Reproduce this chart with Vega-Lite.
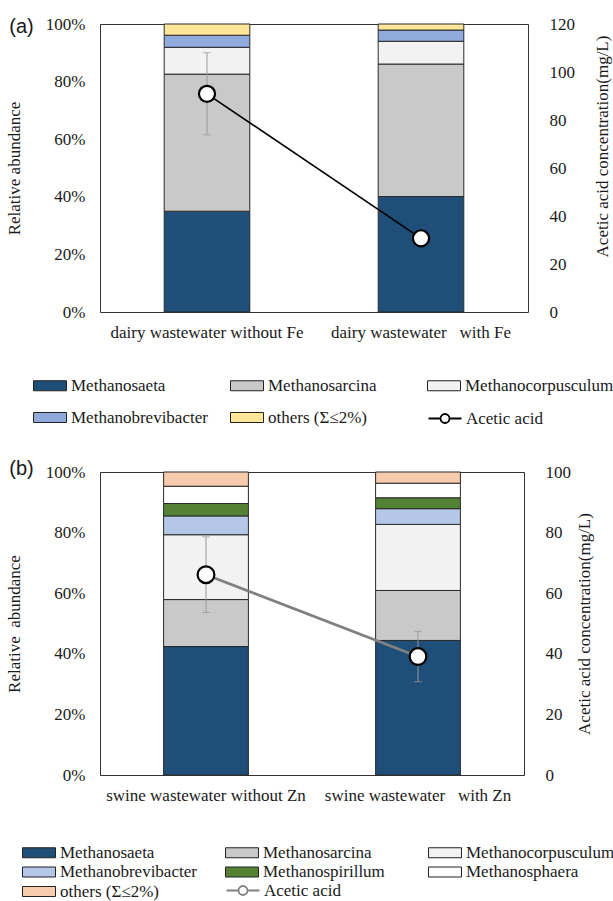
{
  "$schema": "https://vega.github.io/schema/vega-lite/v6.json",
  "background": "white",
  "padding": {"left": 4, "top": 14, "right": 0, "bottom": 0},
  "spacing": 30,
  "config": {
    "font": "Liberation Serif",
    "view": {"stroke": "#333333", "strokeWidth": 1},
    "axis": {"labelFont": "Liberation Serif", "labelFontSize": 17, "labelColor": "#1a1a1a", "titleFont": "Liberation Serif", "titleFontSize": 17, "titleFontWeight": "normal", "titleColor": "#1a1a1a", "ticks": false, "domain": false, "grid": false},
    "legend": {"labelFont": "Liberation Serif", "labelFontSize": 17, "labelColor": "#1a1a1a", "labelLimit": 400},
    "title": {"font": "Liberation Sans", "fontSize": 20, "fontWeight": "normal", "color": "#1a1a1a"}
  },
  "datasets": {
    "a_comp": [
      {"condition": "dairy wastewater without Fe", "series": "Methanosaeta", "rank": 1, "abundance": 35.0},
      {"condition": "dairy wastewater without Fe", "series": "Methanosarcina", "rank": 2, "abundance": 47.6},
      {"condition": "dairy wastewater without Fe", "series": "Methanocorpusculum", "rank": 3, "abundance": 9.3},
      {"condition": "dairy wastewater without Fe", "series": "Methanobrevibacter", "rank": 4, "abundance": 4.2},
      {"condition": "dairy wastewater without Fe", "series": "others (Σ≤2%)", "rank": 5, "abundance": 3.9},
      {"condition": "dairy wastewater\u00a0\u00a0\u00a0with Fe", "series": "Methanosaeta", "rank": 1, "abundance": 40.1},
      {"condition": "dairy wastewater\u00a0\u00a0\u00a0with Fe", "series": "Methanosarcina", "rank": 2, "abundance": 46.0},
      {"condition": "dairy wastewater\u00a0\u00a0\u00a0with Fe", "series": "Methanocorpusculum", "rank": 3, "abundance": 7.9},
      {"condition": "dairy wastewater\u00a0\u00a0\u00a0with Fe", "series": "Methanobrevibacter", "rank": 4, "abundance": 3.9},
      {"condition": "dairy wastewater\u00a0\u00a0\u00a0with Fe", "series": "others (Σ≤2%)", "rank": 5, "abundance": 2.1}
    ],
    "a_acid": [
      {"condition": "dairy wastewater without Fe", "series": "Acetic acid", "acetic": 90.9, "lo": 73.8, "hi": 108.0},
      {"condition": "dairy wastewater\u00a0\u00a0\u00a0with Fe", "series": "Acetic acid", "acetic": 30.7, "lo": 28.7, "hi": 32.7}
    ],
    "b_comp": [
      {"condition": "swine wastewater without Zn", "series": "Methanosaeta", "rank": 1, "abundance": 42.4},
      {"condition": "swine wastewater without Zn", "series": "Methanosarcina", "rank": 2, "abundance": 15.5},
      {"condition": "swine wastewater without Zn", "series": "Methanocorpusculum", "rank": 3, "abundance": 21.4},
      {"condition": "swine wastewater without Zn", "series": "Methanobrevibacter", "rank": 4, "abundance": 6.2},
      {"condition": "swine wastewater without Zn", "series": "Methanospirillum", "rank": 5, "abundance": 4.1},
      {"condition": "swine wastewater without Zn", "series": "Methanosphaera", "rank": 6, "abundance": 5.7},
      {"condition": "swine wastewater without Zn", "series": "others (Σ≤2%)", "rank": 7, "abundance": 4.7},
      {"condition": "swine wastewater\u00a0\u00a0\u00a0with Zn", "series": "Methanosaeta", "rank": 1, "abundance": 44.4},
      {"condition": "swine wastewater\u00a0\u00a0\u00a0with Zn", "series": "Methanosarcina", "rank": 2, "abundance": 16.5},
      {"condition": "swine wastewater\u00a0\u00a0\u00a0with Zn", "series": "Methanocorpusculum", "rank": 3, "abundance": 21.8},
      {"condition": "swine wastewater\u00a0\u00a0\u00a0with Zn", "series": "Methanobrevibacter", "rank": 4, "abundance": 5.2},
      {"condition": "swine wastewater\u00a0\u00a0\u00a0with Zn", "series": "Methanospirillum", "rank": 5, "abundance": 3.6},
      {"condition": "swine wastewater\u00a0\u00a0\u00a0with Zn", "series": "Methanosphaera", "rank": 6, "abundance": 4.8},
      {"condition": "swine wastewater\u00a0\u00a0\u00a0with Zn", "series": "others (Σ≤2%)", "rank": 7, "abundance": 3.7}
    ],
    "b_acid": [
      {"condition": "swine wastewater without Zn", "series": "Acetic acid", "acetic": 66.1, "lo": 53.6, "hi": 78.6},
      {"condition": "swine wastewater\u00a0\u00a0\u00a0with Zn", "series": "Acetic acid", "acetic": 39.1, "lo": 30.8, "hi": 47.4}
    ]
  },
  "vconcat": [
    {
      "title": {"text": "(a)", "anchor": "start", "frame": "bounds", "orient": "top", "offset": 0, "baseline": "top", "dx": 4, "dy": 22},
      "width": 428,
      "height": 288,
      "encoding": {
        "x": {"field": "condition", "type": "nominal", "sort": ["dairy wastewater without Fe", "dairy wastewater\u00a0\u00a0\u00a0with Fe"], "scale": {"paddingInner": 0.6, "paddingOuter": 0.3}, "axis": {"title": null, "labelAngle": 0, "labelPadding": 12, "labelLimit": 400}}
      },
      "layer": [
        {
          "data": {"name": "a_comp"},
          "mark": {"type": "bar", "stroke": "#2a2a2a", "strokeWidth": 1},
          "encoding": {
            "y": {"field": "abundance", "type": "quantitative", "stack": "zero", "scale": {"domain": [0, 100]}, "axis": {"title": "Relative abundance", "values": [0, 20, 40, 60, 80, 100], "labelExpr": "datum.value + '%'", "labelPadding": 15, "titlePadding": 22}},
            "color": {
              "field": "series", "type": "nominal",
              "scale": {"domain": ["Methanosaeta", "Methanosarcina", "Methanocorpusculum", "Methanobrevibacter", "others (Σ≤2%)"], "range": ["#1F4E79", "#C9C9C9", "#F2F2F2", "#8FAADC", "#FFE699"]},
              "legend": {"title": null, "orient": "none", "direction": "horizontal", "legendX": -70, "legendY": 353, "columns": 3, "gridAlign": "all", "columnPadding": 7, "rowPadding": 14, "labelOffset": 24, "symbolSize": 100, "symbolType": "M-1,-1H5.6V1H-1Z", "symbolStrokeColor": "#222222", "symbolStrokeWidth": 1}
            },
            "order": {"field": "rank", "type": "quantitative", "sort": "ascending"}
          }
        },
        {
          "data": {"name": "a_acid"},
          "layer": [
            {
              "mark": {"type": "errorbar", "color": "#999999", "ticks": {"size": 8}, "rule": {"strokeWidth": 1}},
              "encoding": {
                "y": {"field": "lo", "type": "quantitative", "scale": {"domain": [0, 120]}, "axis": {"orient": "right", "title": "Acetic acid concentration(mg/L)", "values": [0, 20, 40, 60, 80, 100, 120], "labelPadding": 21, "titlePadding": 20, "titleAngle": -90, "titleBaseline": "top", "titleY": 122}},
                "y2": {"field": "hi"}
              }
            },
            {
              "mark": {"type": "line", "strokeWidth": 1.6},
              "encoding": {
                "y": {"field": "acetic", "type": "quantitative", "scale": {"domain": [0, 120]}, "axis": {"orient": "right", "title": "Acetic acid concentration(mg/L)", "values": [0, 20, 40, 60, 80, 100, 120], "labelPadding": 21, "titlePadding": 20, "titleAngle": -90, "titleBaseline": "top", "titleY": 122}},
                "stroke": {"field": "series", "type": "nominal", "scale": {"domain": ["Acetic acid"], "range": ["#000000"]}, "legend": {"title": null, "orient": "none", "legendX": 325, "legendY": 386, "labelOffset": 24, "symbolSize": 100, "symbolType": "M-1,0H1.4M3.2,0H5.6M1.4,0A0.9,0.9 0 1,1 3.2,0A0.9,0.9 0 1,1 1.4,0Z", "symbolStrokeWidth": 1.8, "symbolFillColor": "#FFFFFF"}}
              }
            },
            {
              "mark": {"type": "point", "filled": true, "fill": "#FFFFFF", "stroke": "#000000", "strokeWidth": 2.2, "size": 260, "opacity": 1},
              "encoding": {
                "y": {"field": "acetic", "type": "quantitative", "scale": {"domain": [0, 120]}, "axis": {"orient": "right", "title": "Acetic acid concentration(mg/L)", "values": [0, 20, 40, 60, 80, 100, 120], "labelPadding": 21, "titlePadding": 20, "titleAngle": -90, "titleBaseline": "top", "titleY": 122}}
              }
            }
          ]
        }
      ],
      "resolve": {"scale": {"y": "independent"}}
    },
    {
      "title": {"text": "(b)", "anchor": "start", "frame": "bounds", "orient": "top", "offset": 0, "baseline": "top", "dx": 4, "dy": 16},
      "width": 424,
      "height": 303,
      "encoding": {
        "x": {"field": "condition", "type": "nominal", "sort": ["swine wastewater without Zn", "swine wastewater\u00a0\u00a0\u00a0with Zn"], "scale": {"paddingInner": 0.6, "paddingOuter": 0.3}, "axis": {"title": null, "labelAngle": 0, "labelPadding": 12, "labelLimit": 400}}
      },
      "layer": [
        {
          "data": {"name": "b_comp"},
          "mark": {"type": "bar", "stroke": "#2a2a2a", "strokeWidth": 1},
          "encoding": {
            "y": {"field": "abundance", "type": "quantitative", "stack": "zero", "scale": {"domain": [0, 100]}, "axis": {"title": "Relative\u00a0\u00a0abundance", "values": [0, 20, 40, 60, 80, 100], "labelExpr": "datum.value + '%'", "labelPadding": 15, "titlePadding": 22}},
            "color": {
              "field": "series", "type": "nominal",
              "scale": {"domain": ["Methanosaeta", "Methanosarcina", "Methanocorpusculum", "Methanobrevibacter", "Methanospirillum", "Methanosphaera", "others (Σ≤2%)"], "range": ["#1F4E79", "#C9C9C9", "#F2F2F2", "#B4C7E7", "#548235", "#FFFFFF", "#F8CBAD"]},
              "legend": {"title": null, "orient": "none", "direction": "horizontal", "legendX": -81, "legendY": 372, "columns": 3, "gridAlign": "all", "columnPadding": 13, "rowPadding": 1.5, "labelOffset": 24, "symbolSize": 100, "symbolType": "M-1,-1H5.6V1H-1Z", "symbolStrokeColor": "#222222", "symbolStrokeWidth": 1}
            },
            "order": {"field": "rank", "type": "quantitative", "sort": "ascending"}
          }
        },
        {
          "data": {"name": "b_acid"},
          "layer": [
            {
              "mark": {"type": "errorbar", "color": "#999999", "ticks": {"size": 8}, "rule": {"strokeWidth": 1}},
              "encoding": {
                "y": {"field": "lo", "type": "quantitative", "scale": {"domain": [0, 100]}, "axis": {"orient": "right", "title": "Acetic acid concentration(mg/L)", "values": [0, 20, 40, 60, 80, 100], "labelPadding": 21, "titlePadding": 6, "titleAngle": -90, "titleBaseline": "top"}},
                "y2": {"field": "hi"}
              }
            },
            {
              "mark": {"type": "line", "strokeWidth": 2.8},
              "encoding": {
                "y": {"field": "acetic", "type": "quantitative", "scale": {"domain": [0, 100]}, "axis": {"orient": "right", "title": "Acetic acid concentration(mg/L)", "values": [0, 20, 40, 60, 80, 100], "labelPadding": 21, "titlePadding": 6, "titleAngle": -90, "titleBaseline": "top"}},
                "stroke": {"field": "series", "type": "nominal", "scale": {"domain": ["Acetic acid"], "range": ["#808080"]}, "legend": {"title": null, "orient": "none", "legendX": 123, "legendY": 410, "labelOffset": 24, "symbolSize": 100, "symbolType": "M-1,0H1.4M3.2,0H5.6M1.4,0A0.9,0.9 0 1,1 3.2,0A0.9,0.9 0 1,1 1.4,0Z", "symbolStrokeWidth": 1.8, "symbolFillColor": "#FFFFFF"}}
              }
            },
            {
              "mark": {"type": "point", "filled": true, "fill": "#FFFFFF", "stroke": "#000000", "strokeWidth": 2.2, "size": 280, "opacity": 1},
              "encoding": {
                "y": {"field": "acetic", "type": "quantitative", "scale": {"domain": [0, 100]}, "axis": {"orient": "right", "title": "Acetic acid concentration(mg/L)", "values": [0, 20, 40, 60, 80, 100], "labelPadding": 21, "titlePadding": 6, "titleAngle": -90, "titleBaseline": "top"}}
              }
            }
          ]
        }
      ],
      "resolve": {"scale": {"y": "independent"}}
    }
  ],
  "resolve": {"scale": {"color": "independent", "stroke": "independent"}, "legend": {"color": "independent", "stroke": "independent"}}
}
